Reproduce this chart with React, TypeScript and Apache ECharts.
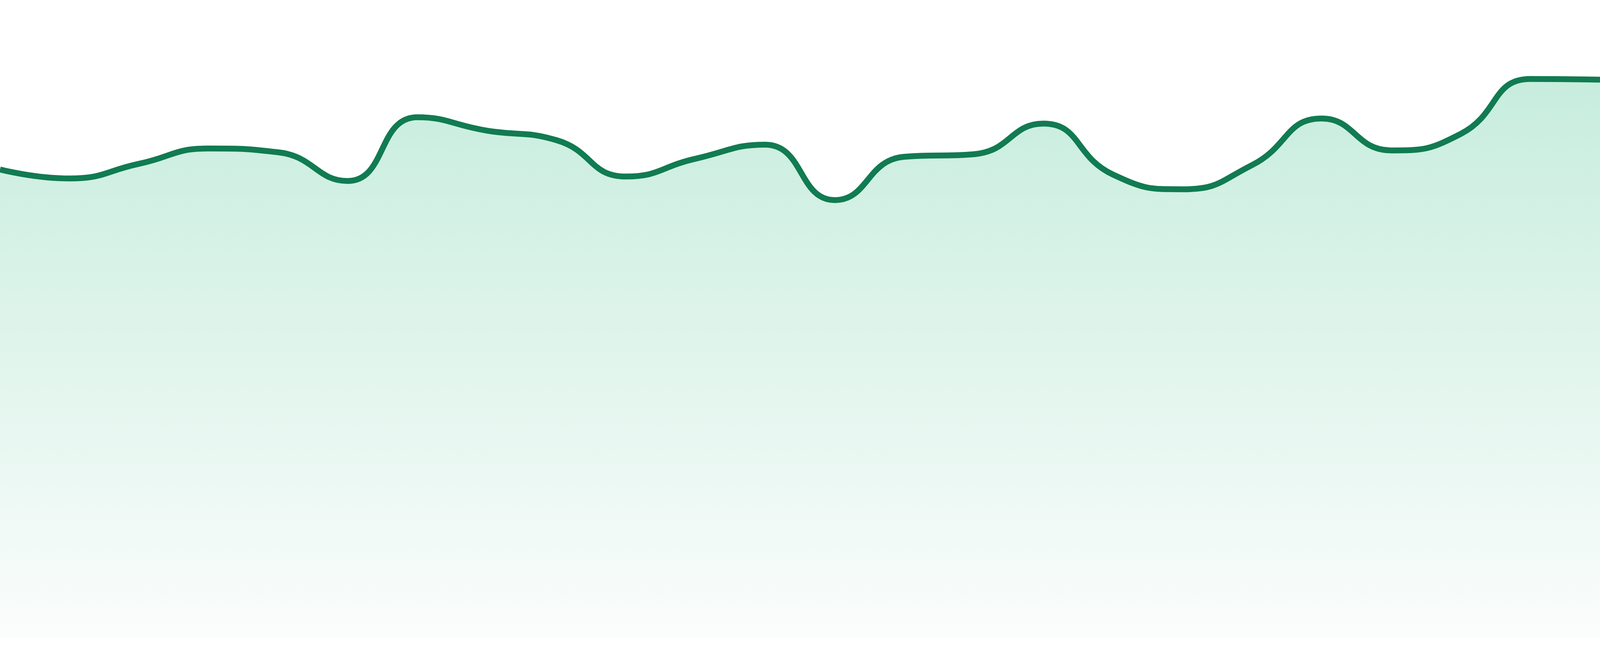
import React, { useEffect, useRef } from "react";
import * as echarts from "echarts";

const hours: string[] = [
  "00:00", "01:00", "02:00", "03:00", "04:00", "05:00", "06:00", "07:00",
  "08:00", "09:00", "10:00", "11:00", "12:00", "13:00", "14:00", "15:00",
  "16:00", "17:00", "18:00", "19:00", "20:00", "21:00", "22:00", "23:00",
];

const values: number[] = [
  73.4, 72.0, 74.3, 76.7, 76.1, 71.6, 81.6, 79.5,
  78.0, 72.3, 75.1, 77.3, 68.6, 75.4, 75.8, 80.6,
  72.6, 70.3, 74.1, 81.4, 76.4, 79.0, 87.6, 87.5,
];

const yMin = 0;
const yMax = 100;

export default function App() {
  const ref = useRef<HTMLDivElement>(null);

  useEffect(() => {
    const el = ref.current;
    if (!el) return;
    const w = el.clientWidth || 4800;
    const h = el.clientHeight || 1680;
    const sy = h / 1680;
    const chart = echarts.init(el, undefined, { renderer: "svg", width: w, height: h });
    chart.setOption({
      animation: false,
      backgroundColor: "#ffffff",
      grid: { left: 0, right: 0, top: 0, bottom: Math.round(48 * sy), containLabel: false },
      xAxis: {
        type: "category",
        data: hours,
        boundaryGap: false,
        show: false,
      },
      yAxis: {
        type: "value",
        min: yMin,
        max: yMax,
        show: false,
        splitLine: { show: false },
      },
      series: [
        {
          type: "line",
          data: values,
          smooth: true,
          showSymbol: false,
          symbol: "none",
          lineStyle: { color: "#117b52", width: 15 * sy },
          itemStyle: { color: "#117b52" },
          areaStyle: {
            color: new echarts.graphic.LinearGradient(0, 0, 0, 1, [
              { offset: 0, color: "#afe5cf" },
              { offset: 1, color: "#f9fcfb" },
            ]),
          },
        },
      ],
    });
    return () => chart.dispose();
  }, []);

  return (
    <div
      ref={ref}
      style={{ position: "fixed", left: 0, top: 0, width: "100vw", height: "100vh", background: "#ffffff" }}
    />
  );
}
